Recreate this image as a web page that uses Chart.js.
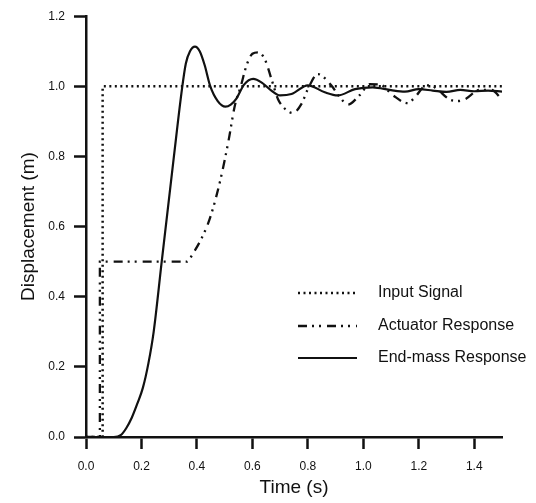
<!DOCTYPE html>
<html>
<head>
<meta charset="utf-8">
<script src="https://cdn.jsdelivr.net/npm/chart.js@4.4.1/dist/chart.umd.min.js"></script>
<style>
  html, body { margin: 0; padding: 0; background: #fff; }
</style>
</head>
<body>
<canvas id="respChart" width="536" height="503"></canvas>
<script>
// values (time in s, displacement in m)
const inputT = [0, 0.06, 0.06, 1.5];
const inputY = [0, 0, 1.0, 1.0];

const actuatorT = [0, 0.05, 0.05, 0.2, 0.363, 0.387, 0.417, 0.447, 0.483, 0.513, 0.537, 0.558, 0.579, 0.6, 0.62,
                   0.645, 0.669, 0.692, 0.717, 0.746, 0.777, 0.8, 0.836, 0.885, 0.915, 0.944, 0.987, 1.023, 1.06,
                   1.106, 1.16, 1.186, 1.228, 1.258, 1.31, 1.337, 1.366, 1.42, 1.46, 1.5];
const actuatorY = [0, 0, 0.5, 0.5, 0.5, 0.525, 0.567, 0.624, 0.728, 0.841, 0.946, 1.0, 1.06, 1.093, 1.097,
                   1.077, 1.02, 0.964, 0.936, 0.924, 0.95, 0.992, 1.035, 1.002, 0.969, 0.948, 0.975, 1.006, 1.005,
                   0.975, 0.952, 0.969, 1.003, 0.997, 0.963, 0.958, 0.963, 0.99, 0.99, 0.963];

const endMassT = [0, 0.1, 0.125, 0.145, 0.165, 0.185, 0.205, 0.225, 0.244, 0.273, 0.317, 0.346, 0.36, 0.375, 0.393,
                  0.41, 0.428, 0.447, 0.475, 0.503, 0.522, 0.543, 0.57, 0.603, 0.635, 0.665, 0.7, 0.741, 0.8, 0.861,
                  0.908, 0.97, 1.034, 1.1, 1.15, 1.2, 1.25, 1.3, 1.35, 1.4, 1.45, 1.5];
const endMassY = [0, 0, 0.005, 0.025, 0.055, 0.095, 0.14, 0.21, 0.3, 0.5, 0.8, 0.992, 1.065, 1.1, 1.113,
                  1.1, 1.06, 1.003, 0.958, 0.942, 0.948, 0.966, 1.005, 1.021, 1.01, 0.99, 0.974, 0.978, 1.003, 0.983,
                  0.974, 0.992, 0.997, 0.989, 0.985, 0.992, 0.988, 0.984, 0.99, 0.986, 0.988, 0.985];

const seriesNames = ['Input Signal', 'Actuator Response', 'End-mass Response'];
const xTicks = [0, 0.2, 0.4, 0.6, 0.8, 1.0, 1.2, 1.4];
const yTicks = [0, 0.2, 0.4, 0.6, 0.8, 1.0, 1.2];

const INK = '#111';
const FONT = "'Liberation Sans', Arial, sans-serif";

function toPoints(ts, ys) {
    return ts.map((t, i) => ({ x: t, y: ys[i] }));
}

// legend sits inside the plot, bottom right
const insideLegend = {
    id: 'insideLegend',
    afterDraw(chart) {
        const ctx = chart.ctx;
        const rows = [293, 326, 358];
        chart.data.datasets.forEach((ds, i) => {
            const y = rows[i];
            ctx.save();
            ctx.strokeStyle = ds.borderColor;
            ctx.lineWidth = ds.borderWidth;
            ctx.setLineDash(ds.borderDash || []);
            ctx.beginPath();
            ctx.moveTo(298, y);
            ctx.lineTo(357, y);
            ctx.stroke();
            ctx.setLineDash([]);
            ctx.fillStyle = INK;
            ctx.font = '16px ' + FONT;
            ctx.textBaseline = 'middle';
            ctx.fillText(ds.label, 378, y);
            ctx.restore();
        });
    }
};

const ctx = document.getElementById('respChart').getContext('2d');

new Chart(ctx, {
    type: 'line',
    data: {
        datasets: [
            {
                label: seriesNames[0],
                data: toPoints(inputT, inputY),
                borderColor: INK,
                borderWidth: 2.5,
                borderDash: [2, 3.5],
                pointRadius: 0,
                tension: 0
            },
            {
                label: seriesNames[1],
                data: toPoints(actuatorT, actuatorY),
                borderColor: INK,
                borderWidth: 2.3,
                borderDash: [9, 5, 2, 5, 2, 6],
                pointRadius: 0,
                cubicInterpolationMode: 'monotone'
            },
            {
                label: seriesNames[2],
                data: toPoints(endMassT, endMassY),
                borderColor: INK,
                borderWidth: 2.2,
                pointRadius: 0,
                cubicInterpolationMode: 'monotone'
            }
        ]
    },
    options: {
        responsive: false,
        animation: false,
        layout: { padding: { top: 13, right: 34, left: 0, bottom: 0 } },
        scales: {
            x: {
                type: 'linear',
                min: 0,
                max: 1.5,
                afterBuildTicks: (s) => { s.ticks = xTicks.map(v => ({ value: v })); },
                afterFit: (s) => { s.height = 66; },
                ticks: {
                    autoSkip: false,
                    maxRotation: 0,
                    padding: 10,
                    color: INK,
                    font: { family: FONT, size: 12 },
                    callback: (v) => Number(v).toFixed(1)
                },
                grid: { drawOnChartArea: false, drawTicks: true, tickLength: 12, tickWidth: 2.5, tickColor: INK },
                border: { display: true, width: 2.5, color: INK },
                title: {
                    display: true,
                    text: 'Time (s)',
                    color: INK,
                    font: { family: FONT, size: 19 },
                    padding: { top: 0, bottom: 4 }
                }
            },
            y: {
                min: 0,
                max: 1.2,
                afterBuildTicks: (s) => { s.ticks = yTicks.map(v => ({ value: v })); },
                afterFit: (s) => { s.width = 86; },
                ticks: {
                    padding: 9,
                    color: INK,
                    font: { family: FONT, size: 12 },
                    callback: (v) => Number(v).toFixed(1)
                },
                grid: { drawOnChartArea: false, drawTicks: true, tickLength: 12, tickWidth: 2.5, tickColor: INK },
                border: { display: true, width: 2.5, color: INK },
                title: {
                    display: true,
                    text: 'Displacement (m)',
                    color: INK,
                    font: { family: FONT, size: 19 },
                    padding: { top: 17, bottom: 0 }
                }
            }
        },
        plugins: {
            legend: { display: false },
            tooltip: { enabled: false }
        }
    },
    plugins: [insideLegend]
});
</script>
</body>
</html>
